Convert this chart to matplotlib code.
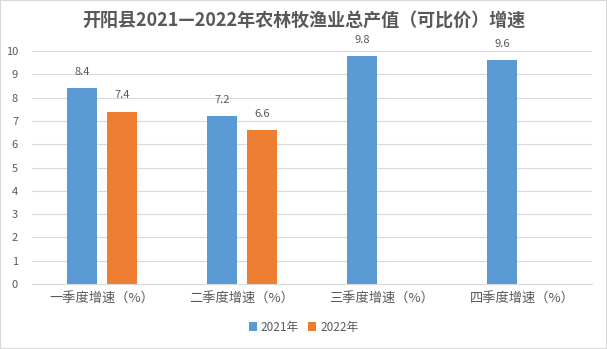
import matplotlib
matplotlib.use("Agg")
import matplotlib.pyplot as plt
from matplotlib.patches import Rectangle
import numpy as np

plt.rcParams['font.family'] = ['Noto Sans CJK SC', 'DejaVu Sans']

title = "开阳县2021—2022年农林牧渔业总产值（可比价）增速"
categories = ["一季度增速（%）", "二季度增速（%）", "三季度增速（%）", "四季度增速（%）"]
series_names = ["2021年", "2022年"]
values_2021 = [8.4, 7.2, 9.8, 9.6]
values_2022 = [7.4, 6.6, None, None]
yticks = [0, 1, 2, 3, 4, 5, 6, 7, 8, 9, 10]

colors = ["#5B9BD5", "#ED7D31"]
text_color = "#595959"
grid_color = "#D9D9D9"

fig = plt.figure(figsize=(6.07, 3.49), dpi=100)
fig.patch.set_facecolor("white")
ax = fig.add_axes([32/607, 1-284/349, 560/607, 233/349])

x = np.arange(len(categories))
width = 0.22
offset = 0.143

for i, (vals, name, col) in enumerate(zip([values_2021, values_2022], series_names, colors)):
    xs = [xi for xi, v in zip(x, vals) if v is not None]
    vs = [v for v in vals if v is not None]
    pos = [xi + (offset if i == 1 else -offset) for xi in xs]
    bars = ax.bar(pos, vs, width=width, color=col, label=name, zorder=3)
    for b, v in zip(bars, vs):
        ax.annotate(f"{v:.1f}", (b.get_x() + b.get_width()/2, v),
                    xytext=(0, 8), textcoords="offset points",
                    ha="center", va="bottom", fontsize=8, color=text_color)

ax.set_ylim(0, 10)
ax.set_xlim(-0.5, len(categories) - 0.5)
ax.set_yticks(yticks)
ax.set_yticklabels([str(t) for t in yticks], fontsize=8, color=text_color)
ax.set_xticks(x)
ax.set_xticklabels(categories, fontsize=9.5, color=text_color)
ax.tick_params(axis='both', length=0)
ax.tick_params(axis='y', pad=10)
ax.tick_params(axis='x', pad=6)
ax.yaxis.grid(True, color=grid_color, linewidth=0.8, zorder=0)
ax.set_axisbelow(True)
for s in ["top", "right", "left"]:
    ax.spines[s].set_visible(False)
ax.spines["bottom"].set_color(grid_color)
ax.spines["bottom"].set_linewidth(0.8)

fig.text(0.5, 1-20/349, title, ha="center", va="center", fontsize=13,
         fontweight="bold", color=text_color)

leg = fig.legend(loc="center", bbox_to_anchor=(0.5, 1-327/349), ncol=2, frameon=False,
                 fontsize=8.5, handlelength=0.7, handleheight=0.7, handletextpad=0.3,
                 columnspacing=0.8, labelcolor=text_color)

fig.patches.append(Rectangle((0, 0), 1, 1, transform=fig.transFigure, fill=False,
                             edgecolor=grid_color, linewidth=1.5))

fig.savefig("out.png", dpi=100)
